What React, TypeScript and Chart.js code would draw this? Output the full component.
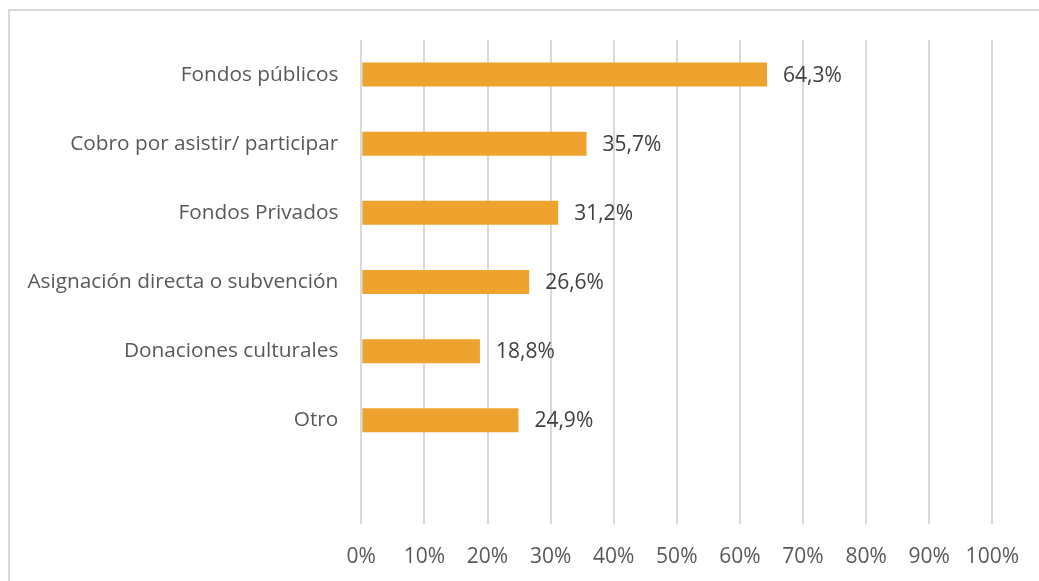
import React, { useEffect, useRef } from "react";
import { Chart, registerables } from "chart.js";

Chart.register(...registerables);

const categories = [
  "Fondos públicos",
  "Cobro por asistir/ participar",
  "Fondos Privados",
  "Asignación directa o subvención",
  "Donaciones culturales",
  "Otro",
  "",
];
const values: (number | null)[] = [64.3, 35.7, 31.2, 26.6, 18.8, 24.9, null];
const xTicks = [0, 10, 20, 30, 40, 50, 60, 70, 80, 90, 100];

const FONT = "'Open Sans', sans-serif";

const fmt = (v: number) => v.toFixed(1).replace(".", ",") + "%";

const valueLabels = {
  id: "valueLabels",
  afterDatasetsDraw(chart: any) {
    const ctx = chart.ctx;
    const meta = chart.getDatasetMeta(0);
    ctx.save();
    ctx.font = `21px ${FONT}`;
    ctx.fillStyle = "#404040";
    ctx.textAlign = "left";
    ctx.textBaseline = "middle";
    meta.data.forEach((el: any, i: number) => {
      const v = values[i];
      if (v == null) return;
      ctx.fillText(fmt(v), el.x + 16, el.y + 1);
    });
    ctx.restore();
  },
};

export default function App() {
  const ref = useRef<HTMLCanvasElement>(null);
  useEffect(() => {
    if (!ref.current) return;
    const chart = new Chart(ref.current, {
      type: "bar",
      data: {
        labels: categories,
        datasets: [
          {
            data: values,
            backgroundColor: "#EEA32F",
            borderWidth: 0,
            categoryPercentage: 1,
            barPercentage: 0.347,
          },
        ],
      },
      options: {
        indexAxis: "y",
        animation: false,
        responsive: false,
        maintainAspectRatio: false,
        layout: { padding: { left: 0, right: 41.5, top: 40, bottom: 0 } },
        plugins: { legend: { display: false }, tooltip: { enabled: false } },
        scales: {
          x: {
            min: 0,
            max: 100,
            afterBuildTicks: (scale: any) => {
              scale.ticks = xTicks.map((v) => ({ value: v }));
            },
            afterFit: (scale: any) => {
              scale.height = 57;
            },
            grid: { color: "#D9D9D9", lineWidth: 2, drawTicks: false },
            border: { display: false },
            ticks: {
              padding: 20,
              color: "#595959",
              font: { family: FONT, size: 21 },
              callback: (v: any) => v + "%",
            },
          },
          y: {
            afterFit: (scale: any) => {
              scale.width = 361.3;
            },
            grid: { display: false, drawTicks: false },
            border: { display: false },
            ticks: {
              padding: 23,
              color: "#595959",
              font: { family: FONT, size: 20.8 },
            },
          },
        },
      },
      plugins: [valueLabels],
    });
    return () => chart.destroy();
  }, []);
  return (
    <div
      style={{
        position: "fixed",
        left: 0,
        top: 0,
        width: 1039,
        height: 581,
        overflow: "hidden",
        background: "#fff",
      }}
    >
      <div
        style={{
          position: "absolute",
          left: 8,
          top: 9,
          width: 1100,
          height: 700,
          border: "2px solid #D9D9D9",
          boxSizing: "border-box",
        }}
      />
      <canvas
        ref={ref}
        width={1039}
        height={581}
        style={{ position: "absolute", left: 0, top: 0, width: 1039, height: 581 }}
      />
    </div>
  );
}
